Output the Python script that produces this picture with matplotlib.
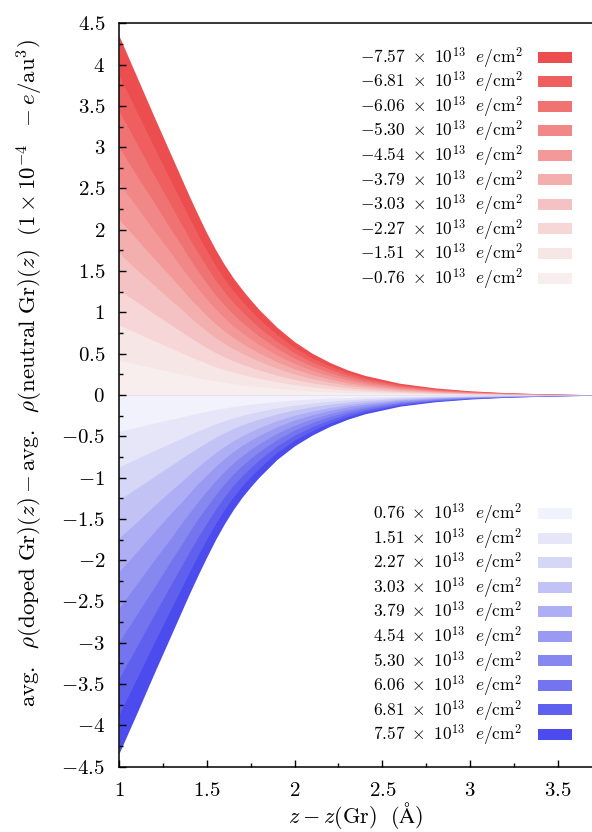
import matplotlib
matplotlib.use("Agg")
import matplotlib.pyplot as plt
from matplotlib.patches import Patch
from matplotlib.ticker import MultipleLocator, FuncFormatter

plt.rcParams['font.family'] = 'serif'
plt.rcParams['font.serif'] = ['cmr10', 'DejaVu Serif']
plt.rcParams['mathtext.fontset'] = 'cm'
plt.rcParams['axes.formatter.use_mathtext'] = True

# distance from the graphene plane (Angstrom)
z = [1.0, 1.1, 1.2, 1.3, 1.35, 1.4, 1.45, 1.5, 1.55, 1.6, 1.65, 1.7, 1.75,
     1.8, 1.9, 2.0, 2.1, 2.2, 2.3, 2.4, 2.6, 2.8, 3.0, 3.2, 3.45, 3.7]

# hole doping (x 1e13 e/cm^2), strongest first
red_doping = [-7.57, -6.81, -6.06, -5.30, -4.54, -3.79, -3.03, -2.27, -1.51, -0.76]
red_curves = [
    [4.35, 3.86, 3.37, 2.89, 2.65, 2.41, 2.18, 1.96, 1.76, 1.58, 1.42, 1.28, 1.15, 1.03, 0.82, 0.645, 0.505, 0.395, 0.305, 0.237, 0.142, 0.086, 0.051, 0.029, 0.013, 0.004],
    [3.87, 3.435, 3.00, 2.57, 2.36, 2.145, 1.94, 1.744, 1.566, 1.406, 1.264, 1.139, 1.024, 0.917, 0.730, 0.574, 0.449, 0.352, 0.271, 0.211, 0.126, 0.077, 0.045, 0.026, 0.012, 0.004],
    [3.44, 3.05, 2.66, 2.28, 2.09, 1.90, 1.72, 1.55, 1.39, 1.25, 1.12, 1.01, 0.909, 0.814, 0.648, 0.510, 0.399, 0.312, 0.241, 0.187, 0.112, 0.068, 0.040, 0.023, 0.010, 0.003],
    [3.00, 2.66, 2.33, 1.99, 1.83, 1.66, 1.50, 1.35, 1.21, 1.09, 0.980, 0.883, 0.794, 0.711, 0.566, 0.445, 0.348, 0.273, 0.210, 0.164, 0.098, 0.059, 0.035, 0.020, 0.009, 0.003],
    [2.57, 2.28, 1.99, 1.71, 1.56, 1.42, 1.29, 1.16, 1.04, 0.932, 0.838, 0.755, 0.679, 0.608, 0.484, 0.381, 0.298, 0.233, 0.180, 0.140, 0.084, 0.051, 0.030, 0.017, 0.008, 0.002],
    [2.13, 1.89, 1.65, 1.42, 1.30, 1.18, 1.07, 0.960, 0.862, 0.774, 0.696, 0.627, 0.564, 0.505, 0.402, 0.316, 0.247, 0.194, 0.149, 0.116, 0.070, 0.042, 0.025, 0.014, 0.006, 0.002],
    [1.72, 1.52, 1.33, 1.14, 1.05, 0.952, 0.861, 0.774, 0.695, 0.624, 0.561, 0.506, 0.454, 0.407, 0.324, 0.255, 0.199, 0.156, 0.120, 0.094, 0.056, 0.034, 0.020, 0.011, 0.005, 0.002],
    [1.27, 1.13, 0.984, 0.844, 0.774, 0.704, 0.637, 0.572, 0.514, 0.461, 0.415, 0.374, 0.336, 0.301, 0.239, 0.188, 0.147, 0.115, 0.089, 0.069, 0.041, 0.025, 0.015, 0.008, 0.004, 0.001],
    [0.848, 0.753, 0.657, 0.564, 0.517, 0.470, 0.425, 0.382, 0.343, 0.308, 0.277, 0.250, 0.224, 0.201, 0.160, 0.126, 0.098, 0.077, 0.059, 0.046, 0.028, 0.017, 0.010, 0.006, 0.003, 0.001],
    [0.422, 0.374, 0.327, 0.280, 0.257, 0.234, 0.211, 0.190, 0.171, 0.153, 0.138, 0.124, 0.112, 0.100, 0.080, 0.063, 0.049, 0.038, 0.030, 0.023, 0.014, 0.008, 0.005, 0.003, 0.001, 0.0],
]
red_colors = ['#ec4e4f', '#ef5f5f', '#f07373', '#f28787', '#f39999',
              '#f3aeae', '#f4c2c2', '#f6d6d6', '#f6e6e6', '#f8eeee']

# electron doping, weakest first
blue_doping = [0.76, 1.51, 2.27, 3.03, 3.79, 4.54, 5.30, 6.06, 6.81, 7.57]
blue_curves = [
    [-0.44, -0.390, -0.340, -0.292, -0.268, -0.243, -0.220, -0.198, -0.177, -0.158, -0.140, -0.125, -0.112, -0.100, -0.079, -0.062, -0.049, -0.038, -0.030, -0.023, -0.014, -0.008, -0.005, -0.003, -0.001, -0.0],
    [-0.87, -0.772, -0.674, -0.578, -0.530, -0.482, -0.436, -0.392, -0.350, -0.312, -0.278, -0.248, -0.222, -0.198, -0.156, -0.123, -0.097, -0.076, -0.059, -0.046, -0.027, -0.016, -0.010, -0.006, -0.003, -0.001],
    [-1.27, -1.13, -0.987, -0.847, -0.776, -0.706, -0.639, -0.574, -0.513, -0.457, -0.407, -0.363, -0.325, -0.290, -0.229, -0.180, -0.142, -0.111, -0.086, -0.067, -0.040, -0.024, -0.014, -0.008, -0.004, -0.001],
    [-1.73, -1.54, -1.34, -1.15, -1.06, -0.962, -0.870, -0.782, -0.698, -0.622, -0.555, -0.495, -0.443, -0.395, -0.311, -0.245, -0.194, -0.152, -0.118, -0.091, -0.054, -0.033, -0.020, -0.012, -0.005, -0.002],
    [-2.14, -1.90, -1.66, -1.42, -1.31, -1.19, -1.07, -0.966, -0.863, -0.769, -0.685, -0.611, -0.547, -0.488, -0.385, -0.303, -0.239, -0.187, -0.145, -0.112, -0.067, -0.040, -0.024, -0.014, -0.006, -0.002],
    [-2.58, -2.29, -2.00, -1.72, -1.57, -1.43, -1.29, -1.16, -1.040, -0.927, -0.826, -0.737, -0.659, -0.588, -0.463, -0.365, -0.288, -0.226, -0.175, -0.135, -0.080, -0.049, -0.029, -0.017, -0.008, -0.002],
    [-2.99, -2.66, -2.33, -1.99, -1.83, -1.66, -1.50, -1.35, -1.208, -1.076, -0.959, -0.856, -0.766, -0.683, -0.538, -0.424, -0.335, -0.262, -0.204, -0.157, -0.093, -0.057, -0.034, -0.020, -0.009, -0.003],
    [-3.43, -3.05, -2.66, -2.28, -2.09, -1.90, -1.72, -1.55, -1.383, -1.232, -1.098, -0.980, -0.877, -0.782, -0.616, -0.486, -0.383, -0.300, -0.233, -0.180, -0.107, -0.065, -0.039, -0.023, -0.010, -0.003],
    [-3.87, -3.435, -3.00, -2.57, -2.36, -2.145, -1.94, -1.744, -1.558, -1.388, -1.237, -1.104, -0.988, -0.881, -0.694, -0.547, -0.432, -0.338, -0.263, -0.203, -0.120, -0.073, -0.044, -0.026, -0.012, -0.004],
    [-4.34, -3.86, -3.37, -2.89, -2.65, -2.41, -2.18, -1.96, -1.75, -1.56, -1.39, -1.24, -1.11, -0.99, -0.78, -0.615, -0.485, -0.38, -0.295, -0.228, -0.135, -0.082, -0.049, -0.029, -0.013, -0.004],
]
blue_colors = ['#f2f2fc', '#e6e6f8', '#d6d6f6', '#c2c2f4', '#aeaef4',
               '#9a9af2', '#8787f0', '#7474ee', '#6060ee', '#4c4cee']


def label(v):
    return r'$%.2f\ \times\ 10^{13}\ \ e/\mathrm{cm}^2$' % v


fig = plt.figure(figsize=(5.92, 8.32), dpi=100)
ax = fig.add_axes([0.201, 0.0785, 0.799, 0.8935])

# strongest doping drawn first, weaker ones on top
for vals, col in zip(red_curves, red_colors):
    ax.fill_between(z, 0, vals, color=col, lw=0)
for vals, col in zip(blue_curves[::-1], blue_colors[::-1]):
    ax.fill_between(z, 0, vals, color=col, lw=0)

ax.set_xlim(1, 3.694)
ax.set_ylim(-4.5, 4.5)
ax.xaxis.set_major_locator(MultipleLocator(0.5))
ax.xaxis.set_minor_locator(MultipleLocator(0.25))
ax.yaxis.set_major_locator(MultipleLocator(0.5))
ax.yaxis.set_minor_locator(MultipleLocator(0.25))
fmt = FuncFormatter(lambda v, _: r'$%g$' % (0 if abs(v) < 1e-9 else v))
ax.xaxis.set_major_formatter(fmt)
ax.yaxis.set_major_formatter(fmt)
ax.tick_params(which='both', direction='in', top=False, right=False, labelsize=15, width=1)
ax.tick_params(which='major', length=5)
ax.tick_params(which='minor', length=3)
ax.tick_params(axis='x', which='major', pad=11)
ax.tick_params(axis='y', which='major', pad=10)
ax.spines['right'].set_visible(False)
for s in ['top', 'left', 'bottom']:
    ax.spines[s].set_linewidth(1.1)

ax.set_xlabel(r'$z - z(\mathrm{Gr})\ \ (\mathrm{\AA})$', fontsize=16, labelpad=0)
ax.set_ylabel(r'$\mathrm{avg.}\ \ \rho(\mathrm{doped\ Gr})(z) - \mathrm{avg.}\ \ '
              r'\rho(\mathrm{neutral\ Gr})(z)\ \ (1\times10^{-4}\ \ -e/\mathrm{au}^3)$',
              fontsize=16.5)
ax.yaxis.set_label_coords(-0.157, 0.53)

red_handles = [Patch(facecolor=c, edgecolor='none', label=label(d))
               for d, c in zip(red_doping, red_colors)]
blue_handles = [Patch(facecolor=c, edgecolor='none', label=label(d))
                for d, c in zip(blue_doping, blue_colors)]

leg_kw = dict(frameon=False, markerfirst=False, fontsize=12.5, handlelength=1.95,
              handleheight=0.6, handletextpad=0.9, labelspacing=-0.04,
              borderpad=0, borderaxespad=0)
leg1 = ax.legend(handles=red_handles, loc='upper right',
                 bbox_to_anchor=(0.958, 0.970), **leg_kw)
ax.add_artist(leg1)
ax.legend(handles=blue_handles, loc='upper right',
          bbox_to_anchor=(0.958, 0.356), **leg_kw)

fig.savefig('out.png', dpi=100)
